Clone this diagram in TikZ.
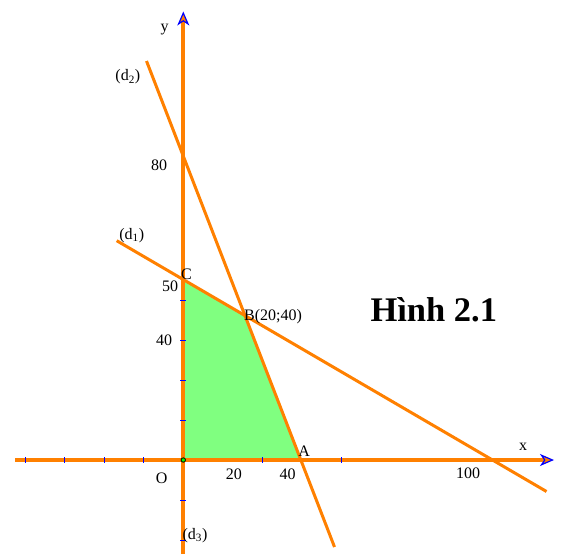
\documentclass[tikz,border=0pt]{standalone}
\usepackage{fontspec}
\setmainfont{Liberation Serif}
\usepackage{xcolor}
\usetikzlibrary{arrows.meta}
\definecolor{cam}{RGB}{255,128,0}
\definecolor{xanhla}{RGB}{128,255,128}

\begin{document}
\begin{tikzpicture}[x=1pt,y=-1pt,
		truc/.style={line width=4pt,cam,-{Stealth[length=14pt,width=12pt,inset=4pt,line width=1.2pt,fill=cam,color=blue]}},
		duong/.style={line width=3pt,cam},
		nhan/.style={inner sep=0pt,font=\fontsize{16}{19}\selectfont},
		vach/.style={blue,line width=1pt}]
		
		\useasboundingbox (0,0) rectangle (561,554);
		
%		cac diem
		\coordinate (O) at (183.3,460);
		\coordinate (xt) at (15,460);
		\coordinate (xp) at (554,460);
		\coordinate (yd) at (183.3,554);
		\coordinate (yt) at (183.3,11.5);
		\coordinate (d1a) at (116.7,240.7);
		\coordinate (d1b) at (546.5,491.5);
		\coordinate (d2a) at (146.5,61);
		\coordinate (d2b) at (334.5,547);
		\coordinate (A) at (intersection of d2a--d2b and xt--xp);
		\coordinate (B) at (intersection of d1a--d1b and d2a--d2b);
		\coordinate (C) at (intersection of d1a--d1b and yd--yt);
		
%		mien nghiem
		\fill[xanhla] (O) -- (A) -- (B) -- (C) -- cycle;
		
%		truc toa do
		\draw[truc] (xt) -- (xp);
		\draw[truc] (yd) -- (yt);
		
%		vach chia
		\def\dx{39.5}
		\def\dy{40}
		\foreach \k in {-4,-3,-2,-1,2,4}
			\draw[vach] ([shift={(\k*\dx,-3)}]O) -- ++(0,6);
		\foreach \k in {-1,-2,-3,-4,1,2}
			\draw[vach] ([shift={(-3,\k*\dy)}]O) -- ++(6,0);
		
%		duong thang d1, d2
		\draw[duong] (d1a) -- (d1b);
		\draw[duong] (d2a) -- (d2b);
		
		\filldraw[fill=green,draw=black,line width=0.8pt] (O) circle (2.2pt);
		
		\node[nhan] (ly) at (164.7,29.2) {y};
		\node[nhan] (lx) at (523,446.7) {x};
		\node[nhan,anchor=base] (ld2) at (127.8,80.7) {(d\textsubscript{2})};
		\node[nhan,anchor=base] (ld1) at (131.7,239.3) {(d\textsubscript{1})};
		\node[nhan,anchor=base] (ld3) at (195,539.3) {(d\textsubscript{3})};
		\node[nhan] (l80) at (159,165) {80};
		\node[nhan] (l50) at (170,286.7) {50};
		\node[nhan] (l40y) at (164,340.7) {40};
		\node[nhan] (lC) at (186.5,274) {C};
		\node[nhan,anchor=base west] (lB) at (244,320) {B(20;40)};
		\node[nhan] (lA) at (304.2,450.8) {A};
		\node[nhan] (lO) at (161.7,478.6) {O};
		\node[nhan] (l20) at (233.8,474.6) {20};
		\node[nhan] (l40x) at (287.5,474.3) {40};
		\node[nhan] (l100) at (468,473.5) {100};
		
		\node[inner sep=0pt,anchor=base,font=\fontsize{34.5}{41}\selectfont\bfseries] (hinh) at (433.8,321.7) {Hình 2.1};
		\end{tikzpicture}
\end{document}
